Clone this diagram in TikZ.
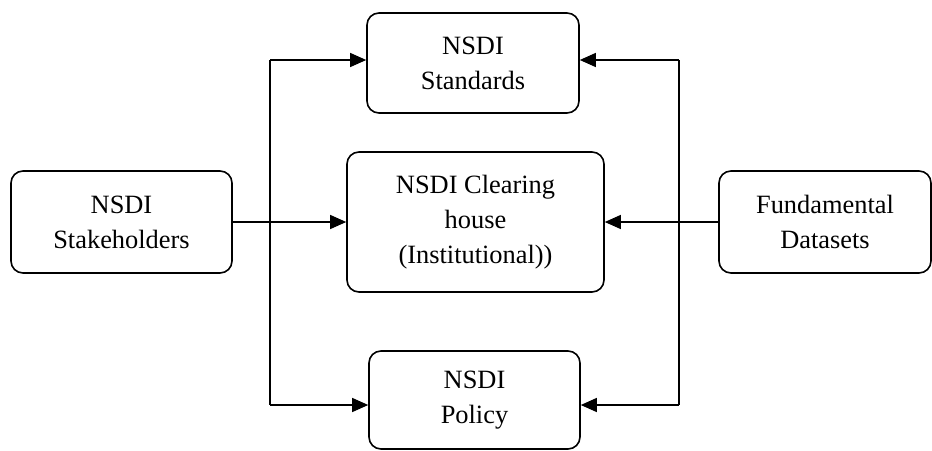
\documentclass[tikz,border=0pt]{standalone}
\usepackage{fontspec}
\setmainfont{Liberation Serif}
\usetikzlibrary{positioning,arrows.meta}

\tikzset{
    block/.style={draw, line width=0.8pt, rounded corners=6pt, align=center, inner sep=0pt,
        font=\fontsize{13.2}{17.5}\selectfont},
    link/.style={line width=0.6pt},
    arr/.style={link, -{Triangle[length=8pt, width=7pt]}}
}

\begin{document}
\begin{tikzpicture}[x=0.5pt, y=-0.5pt]
    \useasboundingbox (0,0) rectangle (932,450);

    % Blocchi
    \node[block, minimum width=110.5pt, minimum height=51pt] (stake) at (121.5, 222) {NSDI\\Stakeholders};
    \node[block, minimum width=106pt, minimum height=50pt] (std) at (473, 63) {NSDI\\Standards};
    \node[block, minimum width=128.5pt, minimum height=70pt] (clear) at (475.5, 222) {NSDI Clearing\\house\\(Institutional))};
    \node[block, minimum width=105.5pt, minimum height=49pt] (pol) at (474.5, 400) {NSDI\\Policy};
    \node[block, minimum width=106pt, minimum height=51pt] (fund) at (825, 222) {Fundamental\\Datasets};

    % Ramo sinistro
    \coordinate (ltop) at (270, 60);
    \coordinate (lbot) at (270, 405);
    \draw[link] (ltop) -- (lbot);
    \draw[arr] (ltop) -- (ltop -| std.west);
    \draw[arr] (lbot) -- (lbot -| pol.west);
    \draw[arr] (stake.east) -- (stake.east -| clear.west);

    % Ramo destro
    \coordinate (rtop) at (679, 60);
    \coordinate (rbot) at (679, 405);
    \draw[link] (rtop) -- (rbot);
    \draw[arr] (rtop) -- (rtop -| std.east);
    \draw[arr] (rbot) -- (rbot -| pol.east);
    \draw[arr] (fund.west) -- (fund.west -| clear.east);
\end{tikzpicture}
\end{document}
